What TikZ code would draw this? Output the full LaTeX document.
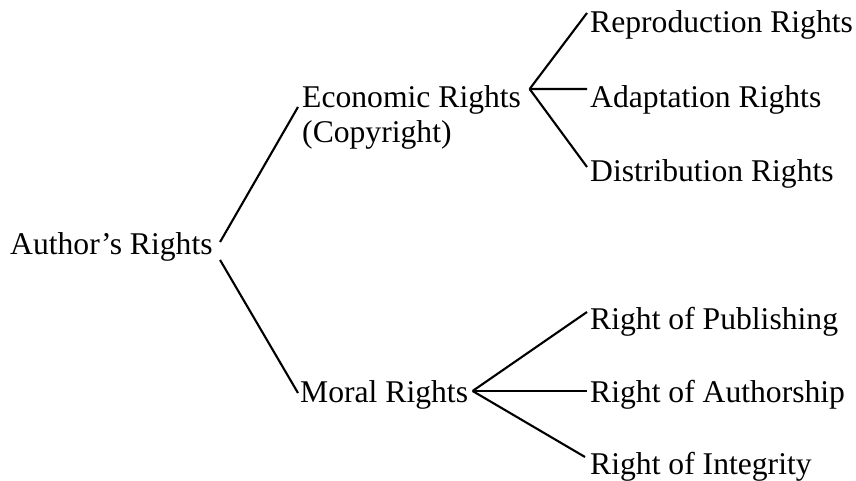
\documentclass[tikz,border=0pt]{standalone}
\usepackage{fontspec}
\setmainfont{Liberation Serif}
\usepackage{tikz}

\begin{document}
\begin{tikzpicture}[x=3mm,y=3mm,
    lbl/.style={inner sep=0pt,anchor=base west,font=\fontsize{27}{30}\selectfont},
    branch/.style={line width=1.8pt}]
          \useasboundingbox (0,0) rectangle (85.6,48.1);
          % root and the two kinds of rights
          \node[lbl] (author) at (1.0,22.6) {Author’s Rights};
          \node[lbl,anchor=north west,align=left] (econ) at (30.2,39.56) {Economic Rights\\(Copyright)};
          \node[lbl] (moral) at (30.0,7.8) {Moral Rights};
          % economic leaves
          \node[lbl] (repro) at (59.0,44.8) {Reproduction Rights};
          \node[lbl] (adapt) at (59.0,37.3) {Adaptation Rights};
          \node[lbl] (distr) at (59.0,29.9) {Distribution Rights};
          % moral leaves
          \node[lbl] (publ) at (59.0,15.1) {Right of Publishing};
          \node[lbl] (authsh) at (59.0,7.8) {Right of Authorship};
          \node[lbl] (integ) at (59.0,0.6) {Right of Integrity};
          % fork points
          \coordinate (econfork) at ([shift={(0.84,-0.36)}]econ.north east);
          \coordinate (moralfork) at ([shift={(0.43,1.2)}]moral.base east);
          \draw[branch] ([shift={(0.72,1.3)}]author.base east) -- ([shift={(-0.4,-2.16)}]econ.north west);
          \draw[branch] ([shift={(0.72,-0.5)}]author.base east) -- ([shift={(-0.2,1.0)}]moral.base west);
          \draw[branch] (econfork) -- ([shift={(-0.3,2.0)}]repro.base west);
          \draw[branch] (econfork) -- ([shift={(-0.3,1.9)}]adapt.base west);
          \draw[branch] (econfork) -- ([shift={(-0.3,1.5)}]distr.base west);
          \draw[branch] (moralfork) -- ([shift={(-0.3,1.8)}]publ.base west);
          \draw[branch] (moralfork) -- ([shift={(-0.3,1.2)}]authsh.base west);
          \draw[branch] (moralfork) -- ([shift={(-0.5,1.8)}]integ.base west);
        \end{tikzpicture}
\end{document}
